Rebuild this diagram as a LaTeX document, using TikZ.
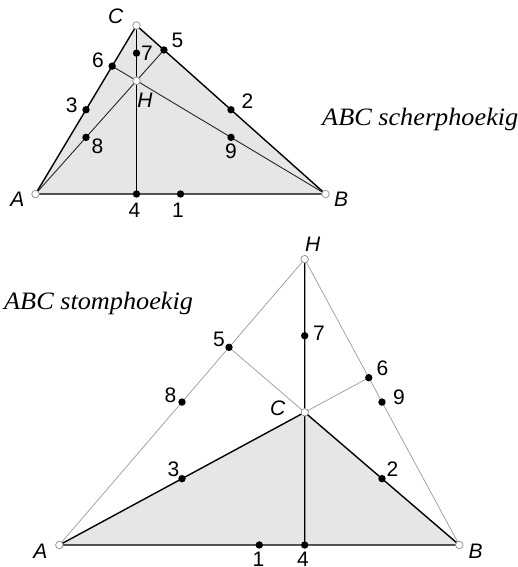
\documentclass[tikz,border=0pt]{standalone}
\usepackage{fontspec}
\newfontfamily\labfont{Liberation Sans}
\newfontfamily\captfont{Liberation Serif}
\usetikzlibrary{calc}
\definecolor{trifill}{HTML}{E6E6E6}
\begin{document}
\begin{tikzpicture}[x=1pt,y=-1pt,
  dotpt/.style={circle,fill=black,inner sep=0pt,minimum size=7.4pt},
  vertpt/.style={circle,fill=white,draw=black!45,line width=0.7pt,inner sep=0pt,minimum size=7.5pt},
  edge/.style={line width=1.4pt,black},
  thinline/.style={line width=0.9pt,black!85},
  greyline/.style={line width=0.7pt,black!40},
  lab/.style={inner sep=0pt,anchor=center,font=\labfont\fontsize{21}{25}\selectfont},
  ilab/.style={lab,font=\labfont\itshape\fontsize{21}{25}\selectfont},
  capt/.style={inner sep=0pt,anchor=base west,xscale=1.05,font=\captfont\itshape\fontsize{25}{29}\selectfont}
]
\useasboundingbox (0,0) rectangle (518,567);

% ---------- top triangle (acute) ----------
\coordinate (A1) at (35.5,194);
\coordinate (B1) at (325.5,194);
\coordinate (C1) at (136.5,25.5);
\coordinate (F4a) at ($(A1)!(C1)!(B1)$);
\coordinate (F5a) at ($(B1)!(A1)!(C1)$);
\coordinate (F6a) at ($(A1)!(B1)!(C1)$);
\coordinate (H1) at (intersection of A1--F5a and C1--F4a);

\fill[trifill] (A1) -- (B1) -- (C1) -- cycle;
\draw[thinline] (A1) -- (F5a);
\draw[thinline] (B1) -- (F6a);
\draw[edge] (C1) -- (F4a);
\draw[edge,line join=round] (A1) -- (B1) -- (C1) -- cycle;

\node[dotpt] (p1a) at ($(A1)!0.5!(B1)$) {};
\node[dotpt] (p2a) at ($(B1)!0.5!(C1)$) {};
\node[dotpt] (p3a) at ($(A1)!0.5!(C1)$) {};
\node[dotpt] (p4a) at (F4a) {};
\node[dotpt] (p5a) at (F5a) {};
\node[dotpt] (p6a) at (F6a) {};
\node[dotpt] (p7a) at ($(C1)!0.5!(H1)$) {};
\node[dotpt] (p8a) at ($(A1)!0.5!(H1)$) {};
\node[dotpt] (p9a) at ($(B1)!0.5!(H1)$) {};
\node[vertpt] (va1) at (A1) {};
\node[vertpt] (vb1) at (B1) {};
\node[vertpt] (vc1) at (C1) {};
\node[vertpt] (vh1) at (H1) {};

\node[ilab] (la1) at (17.3,199) {A};
\node[ilab] (lb1) at (341,199.5) {B};
\node[ilab] (lc1) at (115.8,16.7) {C};
\node[ilab] (lh1) at (145,100.5) {H};
\node[lab] (l1a) at (178,210) {1};
\node[lab] (l2a) at (247.5,100.8) {2};
\node[lab] (l3a) at (71.7,105.5) {3};
\node[lab] (l4a) at (134.5,210) {4};
\node[lab] (l5a) at (177.5,40.7) {5};
\node[lab] (l6a) at (98,60) {6};
\node[lab] (l7a) at (147,53) {7};
\node[lab] (l8a) at (97.5,146) {8};
\node[lab] (l9a) at (231,151) {9};

\node[capt] (cap1) at (322,125) {ABC scherphoekig};

% ---------- bottom triangle (obtuse) ----------
\coordinate (A2) at (59.3,545);
\coordinate (B2) at (459.3,545);
\coordinate (C2) at (304.7,412.3);
\coordinate (F4b) at ($(A2)!(C2)!(B2)$);
\coordinate (F5b) at ($(B2)!(A2)!(C2)$);
\coordinate (F6b) at ($(A2)!(B2)!(C2)$);
\coordinate (H2) at (intersection of A2--F5b and C2--F4b);

\fill[trifill] (A2) -- (B2) -- (C2) -- cycle;
\draw[greyline] (A2) -- (H2) -- (B2);
\draw[greyline] (C2) -- (F5b);
\draw[greyline] (C2) -- (F6b);
\draw[edge] (H2) -- (F4b);
\draw[edge,line join=round] (A2) -- (B2) -- (C2) -- cycle;

\node[dotpt] (p1b) at ($(A2)!0.5!(B2)$) {};
\node[dotpt] (p2b) at ($(B2)!0.5!(C2)$) {};
\node[dotpt] (p3b) at ($(A2)!0.5!(C2)$) {};
\node[dotpt] (p4b) at (F4b) {};
\node[dotpt] (p5b) at (F5b) {};
\node[dotpt] (p6b) at (F6b) {};
\node[dotpt] (p7b) at ($(C2)!0.5!(H2)$) {};
\node[dotpt] (p8b) at ($(A2)!0.5!(H2)$) {};
\node[dotpt] (p9b) at ($(B2)!0.5!(H2)$) {};
\node[vertpt] (va2) at (A2) {};
\node[vertpt] (vb2) at (B2) {};
\node[vertpt] (vc2) at (C2) {};
\node[vertpt] (vh2) at (H2) {};

\node[ilab] (la2) at (40.5,551) {A};
\node[ilab] (lb2) at (475.5,551) {B};
\node[ilab] (lc2) at (277.7,408) {C};
\node[ilab] (lh2) at (312.7,244) {H};
\node[lab] (l1b) at (258.5,559) {1};
\node[lab] (l2b) at (392.5,469.5) {2};
\node[lab] (l3b) at (173.5,469.5) {3};
\node[lab] (l4b) at (303,559) {4};
\node[lab] (l5b) at (219,339.5) {5};
\node[lab] (l6b) at (382.5,368.5) {6};
\node[lab] (l7b) at (319,333.5) {7};
\node[lab] (l8b) at (170.5,395) {8};
\node[lab] (l9b) at (399,397.5) {9};

\node[capt] (cap2) at (4,309) {ABC stomphoekig};
\end{tikzpicture}
\end{document}
